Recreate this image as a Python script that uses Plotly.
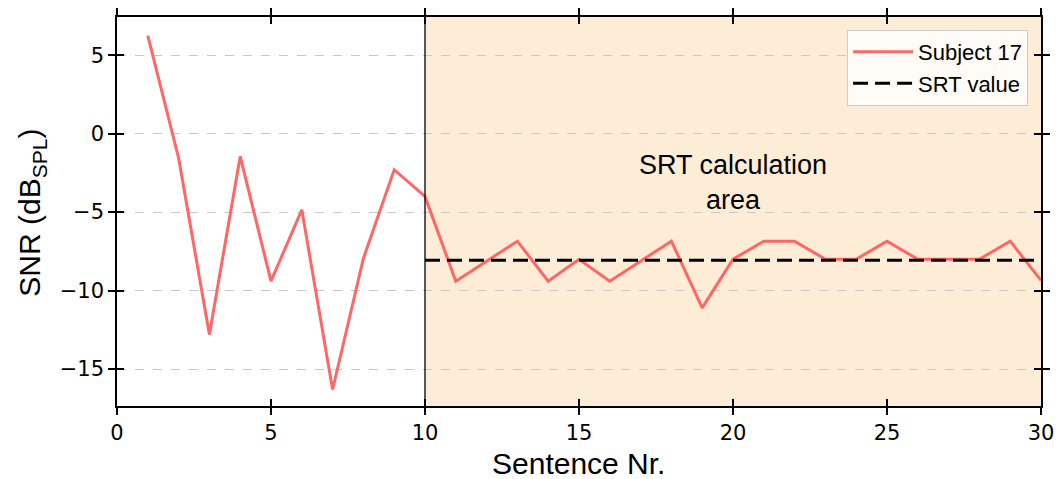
import plotly.graph_objects as go

# Adaptive SNR track for one subject over the sentence list
sentence_nr = list(range(1, 31))
snr_subject17 = [6.25, -1.55, -12.8, -1.45, -9.4, -4.85, -16.3, -7.95, -2.3, -4.0,
                 -9.4, -8.1, -6.85, -9.4, -8.0, -9.4, -8.1, -6.85, -11.1, -8.0,
                 -6.85, -6.85, -8.0, -8.0, -6.85, -8.0, -8.0, -8.0, -6.85, -9.35]
srt_value = -8.07
srt_start, srt_end = 10, 30

x_ticks = [0, 5, 10, 15, 20, 25, 30]
y_ticks = [-15, -10, -5, 0, 5]
x_range = [0, 30]
y_range = [-17.35, 7.43]

TICK_FONT = dict(family="DejaVu Sans", size=21, color="black")
TEXT_FONT = "Liberation Sans"

fig = go.Figure()

fig.add_trace(go.Scatter(
    x=sentence_nr, y=snr_subject17, mode="lines", name="Subject 17", legendgroup="a",
    line=dict(color="#FF6666", width=3),
))
fig.add_trace(go.Scatter(
    x=[srt_start, srt_end], y=[srt_value, srt_value], mode="lines", name="SRT value",
    legendgroup="b", line=dict(color="black", width=3, dash="15px,7px"),
))

# Shaded region used for the SRT calculation
fig.add_shape(type="rect", xref="x", yref="y domain", x0=srt_start, x1=srt_end, y0=0, y1=1,
              fillcolor="#FDEDD6", line=dict(width=0), layer="below")
fig.add_shape(type="line", xref="x", yref="y domain", x0=srt_start, x1=srt_start, y0=0, y1=1,
              line=dict(color="black", width=1.3), layer="above")

fig.add_annotation(x=20, y=-3.1, xref="x", yref="y", text="SRT calculation<br>area",
                   showarrow=False, font=dict(family=TEXT_FONT, size=27, color="black"))

# Axis titles
fig.add_annotation(x=0.499, y=-0.149, xref="paper", yref="paper", text="Sentence Nr.",
                   showarrow=False, xanchor="center", yanchor="middle",
                   font=dict(family=TEXT_FONT, size=30, color="black"))
fig.add_annotation(x=-0.092, y=0.497, xref="paper", yref="paper", text="SNR (dB<sub>SPL</sub>)",
                   showarrow=False, textangle=-90, xanchor="center", yanchor="middle",
                   font=dict(family=TEXT_FONT, size=30, color="black"))

axis_common = dict(showline=True, linecolor="black", linewidth=1.5, mirror="ticks",
                   ticks="outside", ticklen=7, tickwidth=1.5, tickcolor="black",
                   zeroline=False, automargin=False)

fig.update_layout(
    width=1059, height=479,
    margin=dict(l=117, r=18, t=17, b=73),
    paper_bgcolor="white", plot_bgcolor="white",
    showlegend=True,
    legend=dict(x=0.986, y=0.967, xanchor="right", yanchor="top",
                bgcolor="rgba(255,255,255,0.8)", bordercolor="#CCCCCC", borderwidth=1,
                font=dict(family=TEXT_FONT, size=22, color="black"),
                itemwidth=60, tracegroupgap=0),
    xaxis=dict(range=x_range, tickvals=x_ticks, showgrid=False, tickfont=TICK_FONT,
               **axis_common),
    yaxis=dict(range=y_range, tickvals=y_ticks, tickfont=TICK_FONT,
               showgrid=True, gridcolor="#C8C8C8", gridwidth=1, griddash="dash",
               **axis_common),
    # inward halves of the tick marks on all four sides
    xaxis2=dict(range=x_range, tickvals=x_ticks, overlaying="x", anchor="y", side="bottom",
                showticklabels=False, showgrid=False, zeroline=False, showline=False,
                ticks="inside", ticklen=7, tickwidth=1.5, tickcolor="black", mirror="ticks",
                automargin=False),
    yaxis2=dict(range=y_range, tickvals=y_ticks, overlaying="y", anchor="x", side="left",
                showticklabels=False, showgrid=False, zeroline=False, showline=False,
                ticks="inside", ticklen=7, tickwidth=1.5, tickcolor="black", mirror="ticks",
                automargin=False),
)

# invisible trace so the overlay axes are rendered
fig.add_trace(go.Scatter(x=[None], y=[None], xaxis="x2", yaxis="y2", showlegend=False,
                         hoverinfo="skip"))

fig.write_html("out.html")
